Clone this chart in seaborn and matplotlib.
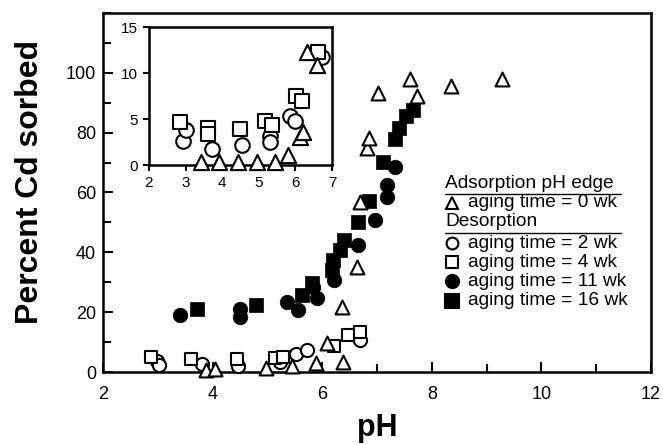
import matplotlib
matplotlib.use("Agg")
import matplotlib.pyplot as plt
import seaborn as sns
from matplotlib.ticker import MultipleLocator
from matplotlib.lines import Line2D

# main plot data (pH, percent Cd sorbed)
ph_0wk = [3.88, 4.05, 4.97, 5.45, 5.88, 6.08, 6.37, 6.36, 6.63, 6.69, 6.81, 6.86, 7.02, 7.60, 7.72, 8.35, 9.28]
cd_0wk = [0.6, 1.0, 1.3, 1.9, 2.9, 9.6, 3.2, 21.8, 35.1, 56.8, 75.0, 78.2, 93.2, 97.9, 92.1, 95.7, 97.9]

ph_2wk = [2.98, 3.02, 3.80, 4.47, 5.23, 5.52, 5.72, 6.69]
cd_2wk = [3.8, 2.2, 2.6, 2.0, 3.2, 6.1, 7.3, 10.7]

ph_4wk = [2.87, 3.60, 4.45, 5.13, 5.29, 6.22, 6.47, 6.68]
cd_4wk = [5.1, 4.2, 4.2, 4.6, 4.9, 8.7, 12.3, 13.4]

ph_11wk = [3.41, 4.50, 4.50, 5.36, 5.55, 5.84, 5.90, 6.22, 6.66, 6.96, 7.18, 7.18, 7.33]
cd_11wk = [19.0, 21.0, 18.5, 23.4, 20.7, 28.4, 24.6, 30.7, 42.3, 50.7, 62.5, 58.5, 68.4]

ph_16wk = [3.71, 4.80, 5.63, 5.81, 6.17, 6.20, 6.33, 6.39, 6.66, 6.86, 7.11, 7.33, 7.40, 7.52, 7.65]
cd_16wk = [21.2, 22.3, 25.7, 29.6, 34.0, 37.5, 40.7, 44.0, 50.1, 57.3, 70.1, 78.0, 81.5, 85.7, 87.5]

# inset data
inset_ph_0wk = [3.41, 3.91, 4.42, 4.94, 5.44, 5.81, 6.13, 6.22, 6.31, 6.58]
inset_cd_0wk = [0.3, 0.3, 0.3, 0.3, 0.3, 1.1, 3.1, 3.6, 12.3, 10.9]
inset_ph_2wk = [2.92, 3.01, 3.71, 4.53, 5.31, 5.31, 5.85, 5.99, 6.72]
inset_cd_2wk = [2.6, 3.8, 1.8, 2.2, 3.2, 2.5, 5.3, 4.8, 11.8]
inset_ph_4wk = [2.85, 3.62, 3.62, 4.49, 5.17, 5.35, 6.03, 6.17, 6.63]
inset_cd_4wk = [4.7, 4.0, 3.4, 3.9, 4.8, 4.4, 7.5, 7.0, 12.3]

legend_labels = ["aging time = 0 wk", "aging time = 2 wk", "aging time = 4 wk",
                 "aging time = 11 wk", "aging time = 16 wk"]

sns.set_style("ticks")
plt.rcParams["font.family"] = ["Liberation Sans", "DejaVu Sans"]
plt.rcParams["text.color"] = "black"
plt.rcParams["axes.labelcolor"] = "black"
plt.rcParams["xtick.color"] = "black"
plt.rcParams["ytick.color"] = "black"

open_kw = dict(facecolor="white", edgecolor="black", linewidth=1.5, clip_on=False, zorder=3)
fill_kw = dict(color="black", edgecolor="black", linewidth=0.5, clip_on=False, zorder=2)

fig = plt.figure(figsize=(6.63, 4.45), dpi=100)
ax = fig.add_axes([0.1554, 0.164, 0.8266, 0.807])

sns.scatterplot(x=ph_11wk, y=cd_11wk, marker="o", s=110, ax=ax, **fill_kw)
sns.scatterplot(x=ph_16wk, y=cd_16wk, marker="s", s=100, ax=ax, **fill_kw)
sns.scatterplot(x=ph_2wk, y=cd_2wk, marker="o", s=90, ax=ax, **open_kw)
sns.scatterplot(x=ph_4wk, y=cd_4wk, marker="s", s=80, ax=ax, **open_kw)
sns.scatterplot(x=ph_0wk, y=cd_0wk, marker="^", s=100, ax=ax, **open_kw)

ax.set_xlim(2, 12)
ax.set_ylim(0, 120)
ax.xaxis.set_major_locator(MultipleLocator(2))
ax.xaxis.set_minor_locator(MultipleLocator(1))
ax.set_yticks([0, 20, 40, 60, 80, 100])
ax.yaxis.set_minor_locator(MultipleLocator(10))
ax.tick_params(which="both", direction="in", width=1.5, labelsize=13, colors="black")
ax.tick_params(which="major", length=7)
ax.tick_params(which="minor", length=6)
ax.tick_params(axis="x", which="major", pad=10)
ax.tick_params(axis="y", which="major", pad=5)
for sp in ax.spines.values():
    sp.set_linewidth(1.8)
    sp.set_color("black")
ax.set_xlabel("pH", fontsize=22, fontweight="bold", labelpad=7)
ax.set_ylabel("Percent Cd sorbed", fontsize=23, fontweight="bold")
ax.yaxis.set_label_coords(-0.105, 0.53)

# legend drawn by hand (two underlined group headers)
hx, mx, tx = 0.624, 0.637, 0.666
rows = [0.526, 0.471, 0.418, 0.359, 0.306, 0.253, 0.198]
fs = 13.8
ax.text(hx, rows[0], "Adsorption pH edge", transform=ax.transAxes, fontsize=fs, va="center")
ax.text(hx, rows[2], "Desorption", transform=ax.transAxes, fontsize=fs, va="center")
for y0 in (rows[0], rows[2]):
    ax.add_line(Line2D([hx, 0.945], [y0 - 0.031, y0 - 0.031], transform=ax.transAxes,
                       color="black", linewidth=1.0))
keys = [("^", "white", rows[1], 9), ("o", "white", rows[3], 8.5), ("s", "white", rows[4], 8),
        ("o", "black", rows[5], 9.5), ("s", "black", rows[6], 9.5)]
for (m, fc, y0, ms), lab in zip(keys, legend_labels):
    ax.add_line(Line2D([mx], [y0], transform=ax.transAxes, marker=m, markersize=ms,
                       markerfacecolor=fc, markeredgecolor="black", markeredgewidth=1.5,
                       linestyle="none"))
    ax.text(tx, y0, lab, transform=ax.transAxes, fontsize=fs, va="center")

# inset
axi = fig.add_axes([0.2247, 0.629, 0.276, 0.310])
sns.scatterplot(x=inset_ph_2wk, y=inset_cd_2wk, marker="o", s=110, ax=axi, **open_kw)
sns.scatterplot(x=inset_ph_4wk, y=inset_cd_4wk, marker="s", s=100, ax=axi, **open_kw)
sns.scatterplot(x=inset_ph_0wk, y=inset_cd_0wk, marker="^", s=120, ax=axi, **open_kw)
axi.set_xlim(2, 7)
axi.set_ylim(0, 15)
axi.set_xticks([2, 3, 4, 5, 6, 7])
axi.set_yticks([0, 5, 10, 15])
axi.tick_params(direction="out", length=4, width=1.5, labelsize=11, pad=4)
for sp in axi.spines.values():
    sp.set_linewidth(1.8)
    sp.set_color("black")

fig.savefig("out.png", dpi=100)
